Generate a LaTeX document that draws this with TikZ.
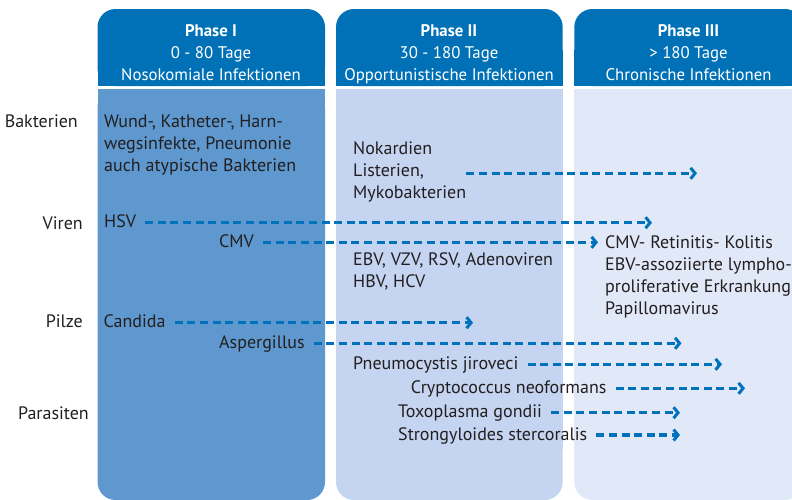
\documentclass[tikz,border=0pt]{standalone}
\usepackage{fontspec}
\setmainfont{PT Sans}
\usetikzlibrary{arrows.meta}

\definecolor{headblue}{HTML}{0071B6}
\definecolor{earlyblue}{HTML}{5E98CE}
\definecolor{midblue}{HTML}{C4D4F1}
\definecolor{lateblue}{HTML}{E1E8F7}
\definecolor{inkgray}{HTML}{231F20}
\definecolor{lineblue}{HTML}{0072BC}

\newcommand{\bodyfont}{\fontsize{18}{22}\selectfont}
\newcommand{\headfont}{\fontsize{16.8}{21.8}\selectfont}

\tikzset{>={Straight Barb[length=4.5pt,width=11pt,line width=3pt]}}
\tikzset{spread/.style={->, draw=lineblue, line width=3.2pt, dash pattern=on 8pt off 4.6pt, shorten <=9pt}}
\tikzset{entry/.style={anchor=base west, inner sep=0pt, text=inkgray, font=\bodyfont, align=left}}
\tikzset{agent/.style={entry, anchor=west, text height=11.5pt, text depth=1pt}}
\tikzset{germ/.style={anchor=base east, inner sep=0pt, text=inkgray, font=\bodyfont}}
\tikzset{head/.style={anchor=base, inner sep=0pt, text=white, font=\headfont, align=center}}

\begin{document}
\begin{tikzpicture}[x=1pt,y=-1pt]
\useasboundingbox (0,0) rectangle (792,499);
\clip (0,0) rectangle (792,499);

\def \radius {18pt}
\def \headtop {9}
\def \headbot {86}
\def \bodytop {89}
\def \bodybot {500}

% phase columns
\fill[headblue, rounded corners=\radius] (97.5,\headtop) rectangle (325,\headbot);
\fill[headblue] (97.5,50) rectangle (325,\headbot);
\fill[earlyblue, rounded corners=\radius] (97.5,\bodytop) rectangle (325,\bodybot);
\fill[earlyblue] (97.5,\bodytop) rectangle (325,450);

\fill[headblue, rounded corners=\radius] (336,\headtop) rectangle (562.7,\headbot);
\fill[headblue] (336,50) rectangle (562.7,\headbot);
\fill[midblue, rounded corners=\radius] (336,\bodytop) rectangle (562.7,\bodybot);
\fill[midblue] (336,\bodytop) rectangle (562.7,450);

\fill[headblue, rounded corners=\radius] (574.3,\headtop) rectangle (803,\headbot);
\fill[headblue] (574.3,50) rectangle (803,\headbot);
\fill[lateblue, rounded corners=\radius] (574.3,\bodytop) rectangle (803,\bodybot);
\fill[lateblue] (574.3,\bodytop) rectangle (803,450);

% headers (base = last line)
\node[head] (phase1) at (211,80) {\textbf{Phase I}\\0 - 80 Tage\\Nosokomiale Infektionen};
\node[head] (phase2) at (449,80) {\textbf{Phase II}\\30 - 180 Tage\\Opportunistische Infektionen};
\node[head] (phase3) at (688.5,80) {\textbf{Phase III}\\> 180 Tage\\Chronische Infektionen};

% groups
\node[germ] (bakterien) at (78,127) {Bakterien};
\node[germ] (viren) at (83,229) {Viren};
\node[germ] (pilze) at (83,327) {Pilze};
\node[germ] (parasiten) at (89,419) {Parasiten};

% texts
\node[entry] (nosokomial) at (104,171) {Wund-, Katheter-, Harn-\\wegsinfekte, Pneumonie\\auch atypische Bakterien};
\node[entry] (nokardien) at (353,198) {Nokardien\\Listerien,\\Mykobakterien};
\node[entry] (ebv) at (353,287) {EBV, VZV, RSV, Adenoviren\\HBV, HCV};
\node[entry] (chronisch) at (605,314) {CMV- Retinitis- Kolitis\\EBV-assoziierte lympho-\\proliferative Erkrankung\\Papillomavirus};

\node[agent] (hsv) at (104,222.7) {HSV};
\node[agent] (cmv) at (219,242.3) {CMV};
\node[agent] (candida) at (103.5,322.7) {Candida};
\node[agent] (aspergillus) at (219,343.3) {Aspergillus};
\node[agent] (pneumocystis) at (353,364.3) {Pneumocystis jiroveci};
\node[agent] (cryptococcus) at (410.7,388.3) {Cryptococcus neoformans};
\node[agent] (toxoplasma) at (398,412.7) {Toxoplasma gondii};
\node[agent] (strongyloides) at (398,435) {Strongyloides stercoralis};

% arrow ends
\coordinate (nokardienend) at (697,173.3);
\coordinate (hsvend) at (652,222.7);
\coordinate (cmvend) at (598,242.3);
\coordinate (candidaend) at (473,322.7);
\coordinate (aspergillusend) at (681.5,343.3);
\coordinate (pneumocystisend) at (722,364.3);
\coordinate (cryptococcusend) at (745,388.3);
\coordinate (toxoplasmaend) at (680,412.7);
\coordinate (strongyloidesend) at (680,435);

\draw[spread, shorten <=0pt] (nokardien.east |- nokardienend) -- (nokardienend);
\draw[spread] (hsv) -- (hsvend);
\draw[spread] (cmv) -- (cmvend);
\draw[spread] (candida) -- (candidaend);
\draw[spread] (aspergillus) -- (aspergillusend);
\draw[spread] (pneumocystis) -- (pneumocystisend);
\draw[spread] (cryptococcus) -- (cryptococcusend);
\draw[spread] (toxoplasma) -- (toxoplasmaend);
\draw[spread] (strongyloides) -- (strongyloidesend);

\end{tikzpicture}
\end{document}
